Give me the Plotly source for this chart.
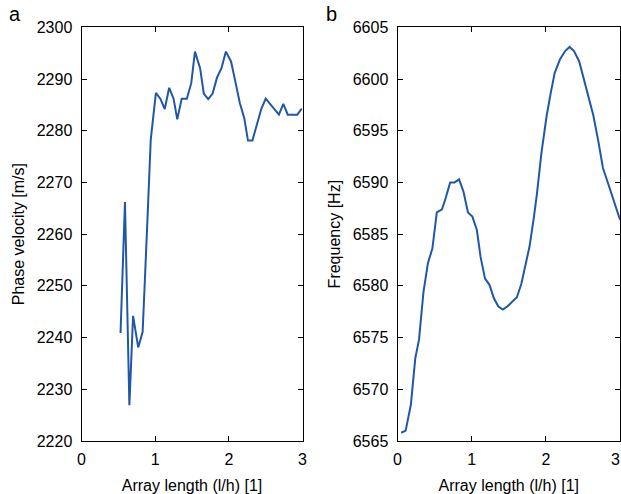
import plotly.graph_objects as go

# Panel a: phase velocity vs. normalised array length
len_a = [0.53, 0.59, 0.65, 0.70, 0.77, 0.83, 0.89, 0.94, 1.01, 1.07, 1.13, 1.19,
         1.25, 1.30, 1.36, 1.43, 1.49, 1.54, 1.61, 1.66, 1.72, 1.78, 1.84, 1.90,
         1.96, 2.03, 2.09, 2.15, 2.21, 2.26, 2.32, 2.38, 2.44, 2.50, 2.56, 2.62,
         2.68, 2.74, 2.80, 2.87, 2.93, 2.99]
phase_velocity = [2240.9, 2266.2, 2226.9, 2244.2, 2238.1, 2241.1, 2261.0, 2278.3,
                  2287.3, 2286.2, 2284.2, 2288.3, 2286.2, 2282.2, 2286.2, 2286.2,
                  2289.2, 2295.3, 2292.1, 2287.2, 2286.1, 2287.2, 2290.3, 2292.1,
                  2295.3, 2293.4, 2289.4, 2285.3, 2282.4, 2278.1, 2278.1, 2281.3,
                  2284.2, 2286.2, 2285.2, 2284.1, 2283.1, 2285.2, 2283.1, 2283.1,
                  2283.1, 2284.3]

# Panel b: resonance frequency vs. normalised array length
len_b = [0.05, 0.11, 0.18, 0.24, 0.29, 0.35, 0.41, 0.47, 0.53, 0.60, 0.65, 0.71,
         0.77, 0.83, 0.89, 0.95, 1.01, 1.07, 1.12, 1.18, 1.24, 1.30, 1.36, 1.42,
         1.48, 1.54, 1.61, 1.67, 1.72, 1.78, 1.84, 1.88, 1.94, 2.01, 2.07, 2.12,
         2.19, 2.26, 2.32, 2.38, 2.45, 2.51, 2.57, 2.64, 2.71, 2.77, 2.84, 2.91,
         2.98, 3.00]
frequency = [6565.8, 6566.0, 6568.5, 6573.0, 6574.8, 6579.4, 6582.2, 6583.6,
             6587.1, 6587.4, 6588.5, 6590.0, 6590.0, 6590.3, 6589.1, 6587.1,
             6586.7, 6585.4, 6582.8, 6580.7, 6580.1, 6578.8, 6578.0, 6577.7,
             6578.0, 6578.4, 6578.9, 6580.2, 6581.8, 6583.8, 6586.7, 6588.9,
             6592.8, 6596.4, 6598.8, 6600.6, 6601.9, 6602.7, 6603.1, 6602.7,
             6601.7, 6600.1, 6598.5, 6596.5, 6593.9, 6591.4, 6589.9, 6588.3,
             6586.7, 6586.4]

x_ticks = [0, 1, 2, 3]
x_labels = ["0", "1", "2", "3"]
ticks_a = [2220, 2230, 2240, 2250, 2260, 2270, 2280, 2290, 2300]
ticks_b = [6565, 6570, 6575, 6580, 6585, 6590, 6595, 6600, 6605]

LINE = "#2057a7"
FONT = "Liberation Sans, Arial, sans-serif"

fig = go.Figure()
fig.add_trace(go.Scatter(x=len_a, y=phase_velocity, mode="lines",
                         line=dict(color=LINE, width=2), xaxis="x", yaxis="y",
                         showlegend=False))
fig.add_trace(go.Scatter(x=len_b, y=frequency, mode="lines",
                         line=dict(color=LINE, width=2), xaxis="x2", yaxis="y2",
                         showlegend=False))

W, H = 621, 494
top, bottom = 27.3, 441.0
ydom = [1 - bottom / H, 1 - top / H]

axis_common = dict(showline=True, linecolor="black", linewidth=1, mirror="ticks",
                   ticks="inside", ticklen=5, tickcolor="black", tickwidth=1,
                   showgrid=False, zeroline=False, automargin=False,
                   tickfont=dict(family=FONT, size=16, color="black"))

# the right panel ends at the page edge, so its last tick label is written
# separately and kept flush with that edge
b_labels = x_labels[:-1] + [""]

fig.update_layout(
    width=W, height=H,
    margin=dict(l=0, r=0, t=0, b=0),
    paper_bgcolor="white", plot_bgcolor="white",
    font=dict(family=FONT, size=16, color="black"),
    xaxis=dict(domain=[81.5 / W, 302.5 / W], range=[0, 3], tickvals=x_ticks,
               ticktext=x_labels, anchor="y", ticklabelstandoff=4,
               title=dict(text="Array length (l/h) [1]", standoff=12,
                          font=dict(family=FONT, size=16)), **axis_common),
    yaxis=dict(domain=ydom, range=[2220, 2300], tickvals=ticks_a, anchor="x",
               ticklabelstandoff=5,
               title=dict(text="Phase velocity [m/s]", standoff=8,
                          font=dict(family=FONT, size=16)), **axis_common),
    xaxis2=dict(domain=[397.5 / W, 620 / W], range=[0, 3], tickvals=x_ticks,
                ticktext=b_labels, anchor="y2", ticklabelstandoff=4,
                title=dict(text="Array length (l/h) [1]", standoff=12,
                           font=dict(family=FONT, size=16)), **axis_common),
    yaxis2=dict(domain=ydom, range=[6565, 6605], tickvals=ticks_b, anchor="x2",
                ticklabelstandoff=5,
                title=dict(text="Frequency [Hz]", standoff=8,
                           font=dict(family=FONT, size=16)), **axis_common),
    annotations=[
        dict(text="a", x=8 / W, y=1 - 14 / H, xref="paper", yref="paper",
             xanchor="left", yanchor="middle", showarrow=False, borderpad=0,
             font=dict(family=FONT, size=20, color="black")),
        dict(text="b", x=325 / W, y=1 - 14 / H, xref="paper", yref="paper",
             xanchor="left", yanchor="middle", showarrow=False, borderpad=0,
             font=dict(family=FONT, size=20, color="black")),
        dict(text=x_labels[-1], x=1, y=1 - 459 / H, xref="paper", yref="paper",
             xanchor="right", yanchor="middle", showarrow=False, borderpad=0,
             font=dict(family=FONT, size=16, color="black")),
    ],
)

fig.write_html("out.html")
